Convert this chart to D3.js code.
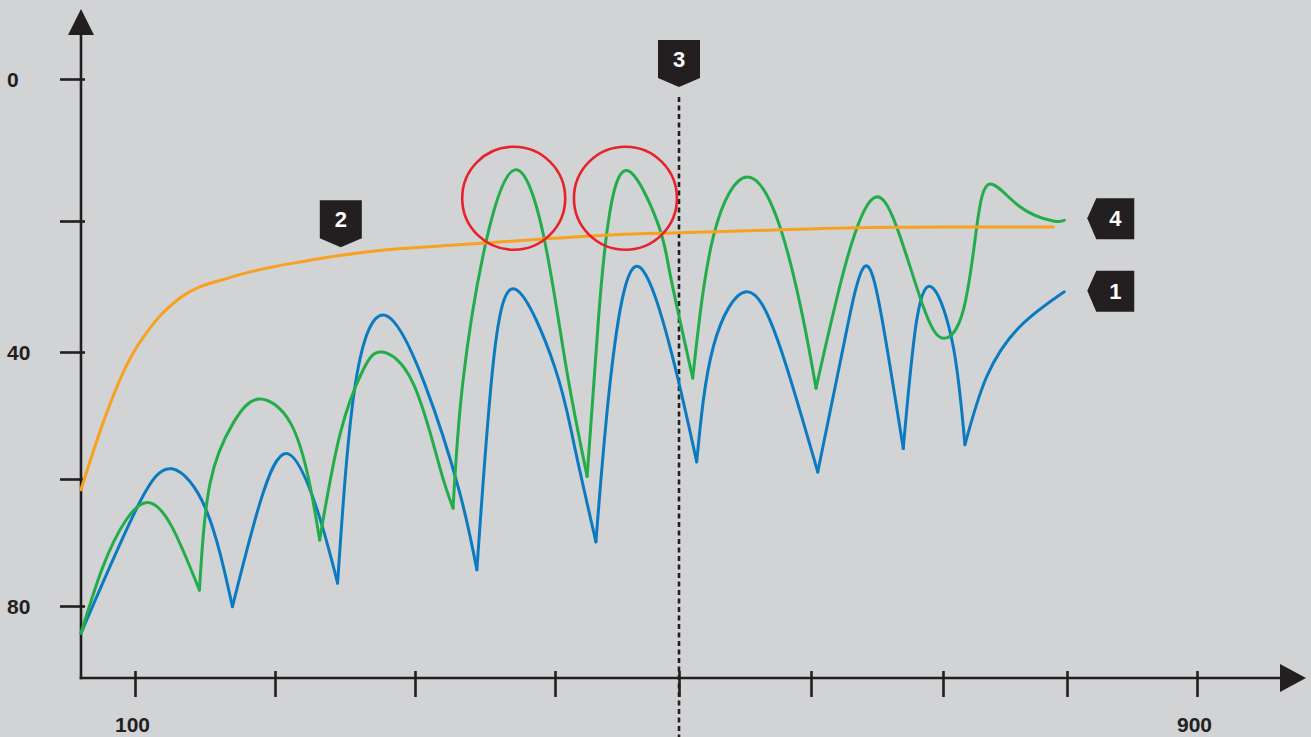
<!DOCTYPE html>
<html>
<head>
<meta charset="utf-8">
<script src="https://cdn.jsdelivr.net/npm/d3@7"></script>
<style>
  html, body { margin: 0; padding: 0; background: #d1d3d4; }
  svg { display: block; }
</style>
</head>
<body>
<svg id="chart" width="1311" height="737"></svg>
<script>
// ---- data ----
const xTicks = [100, 200, 300, 400, 500, 600, 700, 800, 900];
const xTickLabels = { 100: "100", 900: "900" };
const yTicks = [0, 20, 40, 60, 80];
const yTickLabels = { 0: "0", 40: "40", 80: "80" };

// curve 1 (blue) - [x, value]
const curve1 = [
  [61.4, 84.3], [101.7, 64.4], [126.4, 58.4], [150.9, 64.9], [169.6, 80.1],
  [189.2, 63.8], [209.1, 56.0], [230.2, 64.9], [244.7, 76.4],
  [257.5, 44.9], [278.9, 34.4], [306.7, 44.9], [331.4, 61.7], [344.2, 74.3],
  [355.9, 41.7], [372.4, 30.5], [399.7, 42.3], [415.1, 54.3], [433.0, 69.9],
  [444.4, 44.9], [464.4, 27.0], [492.7, 39.2], [513.4, 57.3],
  [526.0, 39.2], [551.3, 30.8], [576.5, 39.2], [605.1, 58.9],
  [624.5, 39.2], [640.9, 26.9], [654.8, 36.1], [669.9, 55.2],
  [680.1, 35.1], [692.7, 30.3], [708.3, 39.2], [717.7, 54.6],
  [735.2, 43.9], [762.1, 36.1], [797.8, 30.8]
];
// indexes where curve 1 has a sharp notch
const curve1Cusps = [4, 8, 13, 18, 22, 26, 30, 34];

// curve 4 (green)
const curve4 = [
  [61.4, 84.3], [77.1, 73.8], [93.5, 66.5], [109.4, 63.7], [126.3, 67.5], [146.0, 77.5],
  [153.6, 60.7], [170.1, 51.2], [188.6, 47.4], [211.1, 51.2], [224.7, 60.7], [231.9, 69.6],
  [246.6, 52.8], [263.0, 42.8], [276.6, 40.0], [298.6, 44.9], [317.6, 58.1], [327.2, 64.6],
  [334.1, 44.9], [350.5, 23.4], [371.4, 12.8], [391.5, 21.9], [408.9, 42.3], [425.9, 59.6],
  [435.2, 34.6], [442.8, 20.4], [458.1, 12.9], [483.0, 20.4], [492.7, 28.0], [510.4, 44.1],
  [526.0, 22.4], [551.7, 13.8], [576.5, 20.9], [594.2, 35.1], [603.8, 45.7],
  [627.0, 26.0], [647.2, 16.8], [664.9, 20.9], [685.1, 33.1], [700.2, 37.9],
  [716.4, 33.6], [727.2, 20.9], [737.9, 14.8], [762.1, 18.0], [789.0, 20.0], [797.8, 19.9]
];
const curve4Cusps = [5, 11, 17, 23, 29, 34];

// curve 2 (orange)
const curve2 = [
  [61.4, 61.7], [77.1, 51.2], [93.5, 42.3], [115.4, 35.1], [131.8, 31.8],
  [170.0, 28.5], [224.7, 26.0], [279.4, 24.4], [334.1, 23.6], [388.7, 22.8],
  [449.0, 22.1], [500.8, 21.8], [568.9, 21.4], [644.7, 21.0], [721.8, 20.9], [789.0, 20.9]
];

const marker3X = 500;
const label2At = [247, 24];
const circledPeaks = [[370.5, 16.8], [456.8, 16.8]];

// ---- layout ----
const W = 1311, H = 737;
const axisX = 81, axisY = 678;
const ink = "#231f20";
const font = "'Liberation Sans', Arial, Helvetica, sans-serif";

// printed ticks are not evenly spaced, so the scales go tick by tick
const x = d3.scaleLinear().domain(xTicks)
  .range([135, 275, 415, 555, 679, 811, 943, 1067, 1197]);
const y = d3.scaleLinear().domain(yTicks)
  .range([79, 221, 352, 479, 606]);

const svg = d3.select("#chart");
svg.append("rect").attr("width", W).attr("height", H).attr("fill", "#d1d3d4");

// y axis
const gy = svg.append("g")
  .attr("transform", `translate(${axisX},0)`)
  .call(d3.axisLeft(y).tickValues(yTicks).tickSize(21).tickSizeOuter(0)
    .tickFormat(d => yTickLabels[d] || ""));
gy.select(".domain").remove();
gy.selectAll(".tick line")
  .attr("x1", 4).attr("x2", -21)
  .attr("stroke", ink).attr("stroke-width", 2.6);
gy.selectAll(".tick text")
  .attr("x", 7 - axisX).attr("dy", "0.35em")
  .attr("text-anchor", "start")
  .attr("fill", ink)
  .style("font-family", font).style("font-size", "21px").style("font-weight", "bold");

// x axis
const gx = svg.append("g")
  .attr("transform", `translate(0,${axisY})`)
  .call(d3.axisBottom(x).tickValues(xTicks).tickSize(19).tickSizeOuter(0)
    .tickFormat(d => xTickLabels[d] || ""));
gx.select(".domain").remove();
gx.selectAll(".tick line")
  .attr("y1", -7).attr("y2", 19)
  .attr("stroke", ink).attr("stroke-width", 2.6);
gx.selectAll(".tick text")
  .attr("y", 54).attr("dy", 0).attr("dx", -3)
  .attr("fill", ink)
  .style("font-family", font).style("font-size", "21px").style("font-weight", "bold");

// axis lines with arrow heads
svg.append("line")
  .attr("x1", axisX).attr("y1", 32).attr("x2", axisX).attr("y2", axisY + 1.3)
  .attr("stroke", ink).attr("stroke-width", 2.6);
svg.append("path")
  .attr("d", `M${axisX - 13},35 L${axisX},9 L${axisX + 13},35 Z`)
  .attr("fill", ink);
svg.append("line")
  .attr("x1", axisX - 1.3).attr("y1", axisY).attr("x2", 1284).attr("y2", axisY)
  .attr("stroke", ink).attr("stroke-width", 2.6);
svg.append("path")
  .attr("d", `M1280,${axisY - 14} L1306,${axisY} L1280,${axisY + 14} Z`)
  .attr("fill", ink);

// dashed marker line
svg.append("line")
  .attr("x1", x(marker3X)).attr("x2", x(marker3X))
  .attr("y1", 97).attr("y2", H)
  .attr("stroke", ink).attr("stroke-width", 2.6)
  .attr("stroke-dasharray", "5,3.5");

// curves: natural spline inside each lobe, monotone for the smooth orange one
const lobeLine = d3.line()
  .x(d => x(d[0]))
  .y(d => y(d[1]))
  .curve(d3.curveNatural);
const smoothLine = d3.line()
  .x(d => x(d[0]))
  .y(d => y(d[1]))
  .curve(d3.curveMonotoneX);

// split a curve into lobes at its notches, so the notches stay sharp
function lobes(points, cusps) {
  const cuts = [0, ...cusps, points.length - 1];
  return d3.pairs(cuts).map(([a, b]) => points.slice(a, b + 1));
}

function drawCurve(points, cusps, color) {
  svg.append("g").selectAll("path")
    .data(lobes(points, cusps))
    .join("path")
    .attr("d", lobeLine)
    .attr("fill", "none")
    .attr("stroke", color)
    .attr("stroke-width", 3)
    .attr("stroke-linejoin", "round")
    .attr("stroke-linecap", "round");
}

drawCurve(curve1, curve1Cusps, "#0b7bc1");
drawCurve(curve4, curve4Cusps, "#22ad4a");
svg.append("path")
  .datum(curve2)
  .attr("d", smoothLine)
  .attr("fill", "none")
  .attr("stroke", "#f8a11f")
  .attr("stroke-width", 3)
  .attr("stroke-linecap", "round");

// red rings round the two peaks
svg.append("g").selectAll("circle")
  .data(circledPeaks)
  .join("circle")
  .attr("cx", d => x(d[0]))
  .attr("cy", d => y(d[1]))
  .attr("r", 51.5)
  .attr("fill", "none")
  .attr("stroke", "#e8222b")
  .attr("stroke-width", 2.6);

// number tags
function tagDown(tx, ty, label) {
  const g = svg.append("g");
  g.append("path")
    .attr("d", `M${tx - 21},${ty - 47} L${tx + 21},${ty - 47} L${tx + 21},${ty - 9} L${tx},${ty} L${tx - 21},${ty - 9} Z`)
    .attr("fill", ink);
  g.append("text")
    .attr("x", tx).attr("y", ty - 28).attr("dy", "0.36em")
    .attr("text-anchor", "middle").attr("fill", "#fff")
    .style("font-family", font).style("font-size", "22px").style("font-weight", "bold")
    .text(label);
}

function tagLeft(tx, ty, label) {
  const g = svg.append("g");
  g.append("path")
    .attr("d", `M${tx},${ty} L${tx + 9},${ty - 20} L${tx + 47},${ty - 20} L${tx + 47},${ty + 21} L${tx + 9},${ty + 21} Z`)
    .attr("fill", ink);
  g.append("text")
    .attr("x", tx + 28).attr("y", ty).attr("dy", "0.36em")
    .attr("text-anchor", "middle").attr("fill", "#fff")
    .style("font-family", font).style("font-size", "22px").style("font-weight", "bold")
    .text(label);
}

tagDown(x(marker3X), 87, "3");
tagDown(x(label2At[0]), y(label2At[1]), "2");

const end4 = curve4[curve4.length - 1];
const end1 = curve1[curve1.length - 1];
tagLeft(x(end4[0]) + 23, y(end4[1]) - 2, "4");
tagLeft(x(end1[0]) + 23, y(end1[1]) - 1, "1");
</script>
</body>
</html>
